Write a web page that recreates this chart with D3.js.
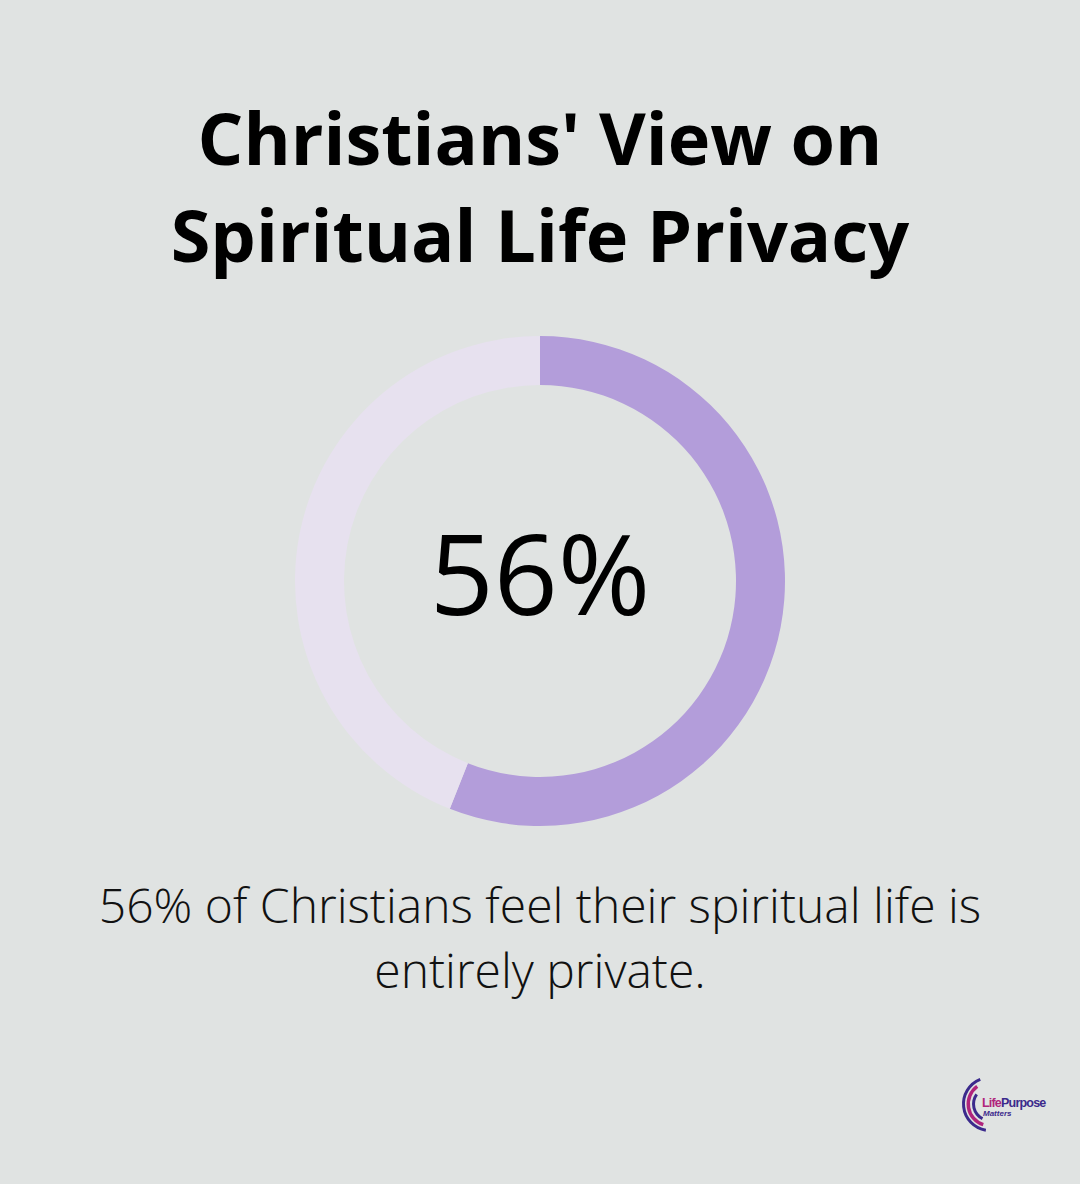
<!DOCTYPE html>
<html>
<head>
<meta charset="utf-8">
<script src="https://cdn.jsdelivr.net/npm/d3@7"></script>
<style>
  html, body { margin: 0; padding: 0; background: #E0E3E2; }
  svg { display: block; }
</style>
</head>
<body>
<svg id="chart" width="1080" height="1184"></svg>
<script>
// ---- data ----
const titleLines = ["Christians' View on", "Spiritual Life Privacy"];
const categories = ["Entirely private", "Other"];
const values = [56, 44];
const centerLabel = "56%";
const captionLines = ["56% of Christians feel their spiritual life is", "entirely private."];
const colors = ["#B39DDA", "#E7E1EF"];

const svg = d3.select("#chart");
const W = 1080;

svg.append("rect").attr("width", W).attr("height", 1184).attr("fill", "#E0E3E2");

// title
svg.append("g").selectAll("text").data(titleLines).join("text")
  .attr("x", W / 2)
  .attr("y", (d, i) => 165 + i * 97)
  .attr("text-anchor", "middle")
  .attr("font-family", "'Open Sans', sans-serif")
  .attr("font-weight", 700)
  .attr("font-size", 72)
  .attr("fill", "#000")
  .text(d => d);

// donut
const cx = 540, cy = 581;
const pie = d3.pie().sort(null).value(d => d);
const arc = d3.arc().innerRadius(196).outerRadius(245);
const g = svg.append("g").attr("transform", `translate(${cx},${cy})`);
g.selectAll("path").data(pie(values)).join("path")
  .attr("d", arc)
  .attr("fill", (d, i) => colors[i]);

g.append("text")
  .attr("x", 0).attr("y", 34)
  .attr("text-anchor", "middle")
  .attr("font-family", "'Open Sans', sans-serif")
  .attr("font-weight", 500)
  .attr("font-size", 112)
  .attr("fill", "#000")
  .text(centerLabel);

// caption
svg.append("g").selectAll("text").data(captionLines).join("text")
  .attr("x", W / 2)
  .attr("y", (d, i) => 923 + i * 65)
  .attr("text-anchor", "middle")
  .attr("font-family", "'Open Sans', sans-serif")
  .attr("font-weight", 300)
  .attr("font-size", 48)
  .attr("fill", "#111")
  .text(d => d);

// logo
const logo = svg.append("g").attr("transform", "translate(990,1104)");
const la = d3.arc();
logo.append("path").attr("d", la({innerRadius: 25, outerRadius: 28, startAngle: -Math.PI * 0.95, endAngle: -Math.PI * 0.12})).attr("fill", "#3B2A8C");
logo.append("path").attr("d", la({innerRadius: 20, outerRadius: 23.5, startAngle: -Math.PI * 0.9, endAngle: -Math.PI * 0.2})).attr("fill", "#B0247C");
logo.append("path").attr("d", la({innerRadius: 15, outerRadius: 18, startAngle: -Math.PI * 0.85, endAngle: -Math.PI * 0.3})).attr("fill", "#3B2A8C");
logo.append("text").attr("x", -8).attr("y", 3)
  .attr("font-family", "'Liberation Sans', sans-serif").attr("font-weight", 700)
  .attr("font-size", 12.5).attr("letter-spacing", -0.8)
  .html('<tspan fill="#B0247C">Life</tspan><tspan fill="#3B2A8C">Purpose</tspan>');
logo.append("text").attr("x", -7).attr("y", 12)
  .attr("font-family", "'Liberation Sans', sans-serif").attr("font-weight", 700).attr("font-style", "italic")
  .attr("font-size", 8).attr("fill", "#3B2A8C")
  .text("Matters");
</script>
</body>
</html>
